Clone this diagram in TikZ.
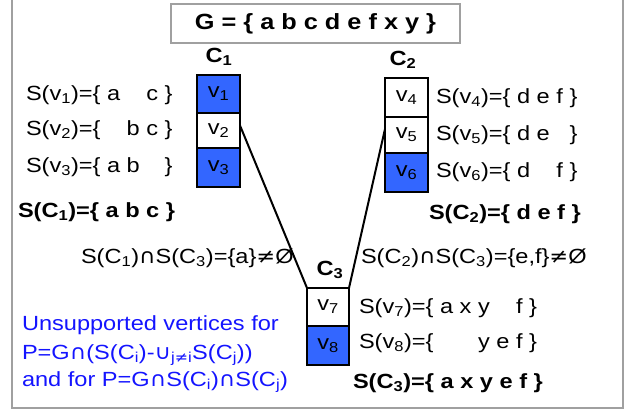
\documentclass[tikz,border=0pt]{standalone}
\usepackage{fontspec}
\setmainfont{Liberation Sans}[FakeStretch=1.15]
\newfontfamily\symf{DejaVu Sans}[FakeStretch=1.1]
\definecolor{boxblue}{RGB}{51,102,255}
\definecolor{txtblue}{RGB}{20,20,255}
\definecolor{framegray}{RGB}{160,160,160}
\newcommand{\sub}[1]{\textsubscript{#1}}
\newcommand{\capS}{{\symf ∩}}
\newcommand{\cupS}{{\symf ∪}}
\newcommand{\neqS}{{\symf ≠}}
\begin{document}
\begin{tikzpicture}[x=1pt,y=-1pt,
  every node/.style={inner sep=0pt, outer sep=0pt},
  txt/.style={anchor=west, font=\fontsize{20.5}{24}\selectfont},
  btxt/.style={anchor=west, font=\fontsize{20.5}{24}\selectfont\bfseries},
  clabel/.style={font=\fontsize{20.5}{24}\selectfont\bfseries},
  vwhite/.style={draw=black, line width=1.5pt, fill=white, minimum width=43pt, font=\fontsize{20.5}{24}\selectfont},
  vblue/.style={vwhite, fill=boxblue},
  conn/.style={draw=black, line width=2pt},
  bluetxt/.style={txt, text=txtblue}
]
\useasboundingbox (0,0) rectangle (636,412);
\draw[framegray, line width=2pt] (12,-2) -- (12,408) -- (623,408) -- (623,-2);
\node[draw=framegray, line width=2pt, minimum width=289pt, minimum height=39pt, font=\fontsize{22}{26}\selectfont\bfseries] (G) at (315.5,23.5) {G = \{ a b c d e f x y \}};
% C1
\node[clabel] (c1) at (219,57) {C\sub{1}};
\node[vblue, minimum height=38pt] (v1) at (218.5,94) {v\sub{1}};
\node[vwhite, minimum height=35pt] (v2) at (218.5,130.5) {v\sub{2}};
\node[vblue, minimum height=39pt] (v3) at (218.5,167.5) {v\sub{3}};
% C2
\node[clabel] (c2) at (403,60) {C\sub{2}};
\node[vwhite, minimum height=39pt] (v4) at (406.5,97.5) {v\sub{4}};
\node[vwhite, minimum height=36pt] (v5) at (406.5,135) {v\sub{5}};
\node[vblue, minimum height=39pt] (v6) at (406.5,172.5) {v\sub{6}};
% C3
\node[clabel] (c3) at (330,270) {C\sub{3}};
\node[vwhite, minimum width=42pt, minimum height=38pt] (v7) at (328,307) {v\sub{7}};
\node[vblue, minimum width=42pt, minimum height=39pt] (v8) at (328,345.5) {v\sub{8}};
% texts
\node[txt] (sv1) at (26,95) {S(v\sub{1})=\{ a \phantom{b} c \}};
\node[txt] (sv2) at (26,130) {S(v\sub{2})=\{ \phantom{a} b c \}};
\node[txt] (sv3) at (26,167) {S(v\sub{3})=\{ a b \phantom{c} \}};
\node[btxt] (sc1) at (18,212) {S(C\sub{1})=\{ a b c \}};
\node[txt] (sv4) at (436,98) {S(v\sub{4})=\{ d e f \}};
\node[txt] (sv5) at (436,135) {S(v\sub{5})=\{ d e \phantom{f} \}};
\node[txt] (sv6) at (436,172) {S(v\sub{6})=\{ d \phantom{e} f \}};
\node[btxt] (sc2) at (429,214) {S(C\sub{2})=\{ d e f \}};
\node[txt] (i13) at (81,258) {S(C\sub{1})\capS S(C\sub{3})=\{a\}\neqS Ø};
\node[txt] (i23) at (361,258) {S(C\sub{2})\capS S(C\sub{3})=\{e,f\}\neqS Ø};
\node[txt] (sv7) at (359,308) {S(v\sub{7})=\{ a x y \phantom{e} f \}};
\node[txt] (sv8) at (359,343) {S(v\sub{8})=\{ \phantom{a x} y e f \}};
\node[btxt] (sc3) at (353,383) {S(C\sub{3})=\{ a x y e f \}};
\node[bluetxt] (u1) at (22,325) {Unsupported vertices for};
\node[bluetxt] (u2) at (22,355) {P=G\capS(S(C\sub{i})-\cupS\sub{j\neqS i}S(C\sub{j}))};
\node[bluetxt] (u3) at (22,382) {and for P=G\capS S(C\sub{i})\capS S(C\sub{j})};
% connectors
\draw[conn] ([yshift=5pt]v2.east) -- (v7.north west);
\draw[conn] ([yshift=6pt]v5.west) -- (v7.north east);
\end{tikzpicture}
\end{document}
